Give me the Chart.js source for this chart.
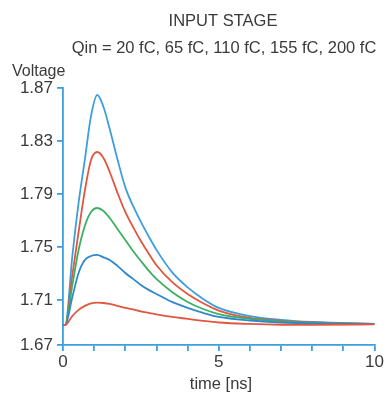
<!DOCTYPE html>
<html>
<head>
<meta charset="utf-8">
<script src="https://cdn.jsdelivr.net/npm/chart.js@4.4.1/dist/chart.umd.min.js"></script>
<style>
  html, body { margin: 0; padding: 0; background: #fff; }
  #wrap { width: 387px; height: 395px; }
</style>
</head>
<body>
<div id="wrap"><canvas id="chart"></canvas></div>
<script>
// time samples [ns]
const times = [0, 0.07, 0.3, 0.5, 0.7, 0.9, 1.1, 1.3, 1.5, 1.75, 2.0, 2.25, 2.5, 2.75, 3.0, 3.5, 4.0, 4.5, 5.0, 6.0, 7.0, 8.0, 10.0];

// output voltage per input charge
const q20 = [1.6911, 1.6911, 1.6979, 1.7025, 1.7055, 1.7074, 1.7080, 1.7077, 1.7070, 1.7055, 1.7040, 1.7028, 1.7013, 1.7002, 1.6991, 1.6972, 1.6957, 1.6942, 1.6930, 1.6919, 1.6913, 1.6912, 1.6915];
const q65 = [1.6911, 1.6911, 1.7123, 1.7304, 1.7402, 1.7432, 1.7440, 1.7421, 1.7402, 1.7357, 1.7304, 1.7259, 1.7213, 1.7176, 1.7145, 1.7085, 1.7040, 1.7002, 1.6972, 1.6945, 1.6930, 1.6923, 1.6919];
const q110 = [1.6911, 1.6911, 1.7213, 1.7477, 1.7659, 1.7764, 1.7794, 1.7772, 1.7719, 1.7636, 1.7553, 1.7470, 1.7394, 1.7322, 1.7259, 1.7160, 1.7085, 1.7032, 1.6994, 1.6957, 1.6938, 1.6926, 1.6919];
const q155 = [1.6911, 1.6911, 1.7289, 1.7613, 1.7923, 1.8157, 1.8217, 1.8172, 1.8066, 1.7908, 1.7764, 1.7650, 1.7545, 1.7450, 1.7362, 1.7236, 1.7145, 1.7075, 1.7020, 1.6964, 1.6942, 1.6930, 1.6919];
const q200 = [1.6911, 1.6911, 1.7432, 1.7832, 1.8157, 1.8489, 1.8647, 1.8557, 1.8391, 1.8160, 1.7950, 1.7810, 1.7690, 1.7580, 1.7478, 1.7310, 1.7195, 1.7108, 1.7040, 1.6978, 1.6950, 1.6934, 1.6919];

// the bottom tick sits a little closer than the others in the original
const yTicks = [1.676, 1.71, 1.75, 1.79, 1.83, 1.87];
const yTickLabels = ["1.67", "1.71", "1.75", "1.79", "1.83", "1.87"];
const xLabelled = [0, 5, 10];

const axisBlue = "#3a9fdc";
const textColor = "#3a3a3a";

const series = [
  { data: q20, color: "#e2573f" },
  { data: q65, color: "#2f88cc" },
  { data: q110, color: "#3cb062" },
  { data: q155, color: "#e2553f" },
  { data: q200, color: "#3d9edd" },
];

const textPlugin = {
  id: "texts",
  afterDraw(chart) {
    const ctx = chart.ctx;
    ctx.save();
    ctx.fillStyle = textColor;
    ctx.textBaseline = "alphabetic";
    ctx.font = "16.5px 'Liberation Sans', Arial, sans-serif";
    ctx.textAlign = "center";
    ctx.fillText("INPUT STAGE", 223, 26);
    ctx.fillText("Qin = 20 fC, 65 fC, 110 fC, 155 fC, 200 fC", 224, 53);
    ctx.fillText("time [ns]", 221, 389);
    ctx.textAlign = "left";
    ctx.font = "16px 'Liberation Sans', Arial, sans-serif";
    ctx.fillText("Voltage", 12, 76);
    ctx.restore();
  },
};

new Chart(document.getElementById("chart"), {
  type: "line",
  data: {
    datasets: series.map((s) => ({
      data: times.map((t, i) => ({ x: t, y: s.data[i] })),
      borderColor: s.color,
      borderWidth: 1.8,
      pointRadius: 0,
      fill: false,
      cubicInterpolationMode: "monotone",
    })),
  },
  options: {
    responsive: true,
    maintainAspectRatio: false,
    animation: false,
    layout: { padding: { top: 88, right: 12.5, left: 0, bottom: 0 } },
    plugins: { legend: { display: false }, tooltip: { enabled: false } },
    scales: {
      x: {
        type: "linear",
        min: 0,
        max: 10,
        afterFit: (scale) => { scale.height = 50; },
        border: { display: true, color: axisBlue, width: 1.8 },
        grid: { drawOnChartArea: false, drawTicks: true, tickLength: 6, color: axisBlue, lineWidth: 1.8 },
        ticks: {
          stepSize: 1,
          autoSkip: false,
          maxRotation: 0,
          padding: 1,
          color: textColor,
          font: { family: "'Liberation Sans', Arial, sans-serif", size: 17 },
          callback: (v) => (xLabelled.includes(v) ? String(v) : ""),
        },
      },
      y: {
        type: "linear",
        min: yTicks[0],
        max: yTicks[yTicks.length - 1],
        afterFit: (scale) => { scale.width = 63; },
        afterBuildTicks: (scale) => { scale.ticks = yTicks.map((v) => ({ value: v })); },
        border: { display: true, color: axisBlue, width: 1.8 },
        grid: { drawOnChartArea: false, drawTicks: true, tickLength: 6, color: axisBlue, lineWidth: 1.8 },
        ticks: {
          padding: 4,
          color: textColor,
          font: { family: "'Liberation Sans', Arial, sans-serif", size: 17 },
          callback: (v, i) => yTickLabels[i],
        },
      },
    },
  },
  plugins: [textPlugin],
});
</script>
</body>
</html>
